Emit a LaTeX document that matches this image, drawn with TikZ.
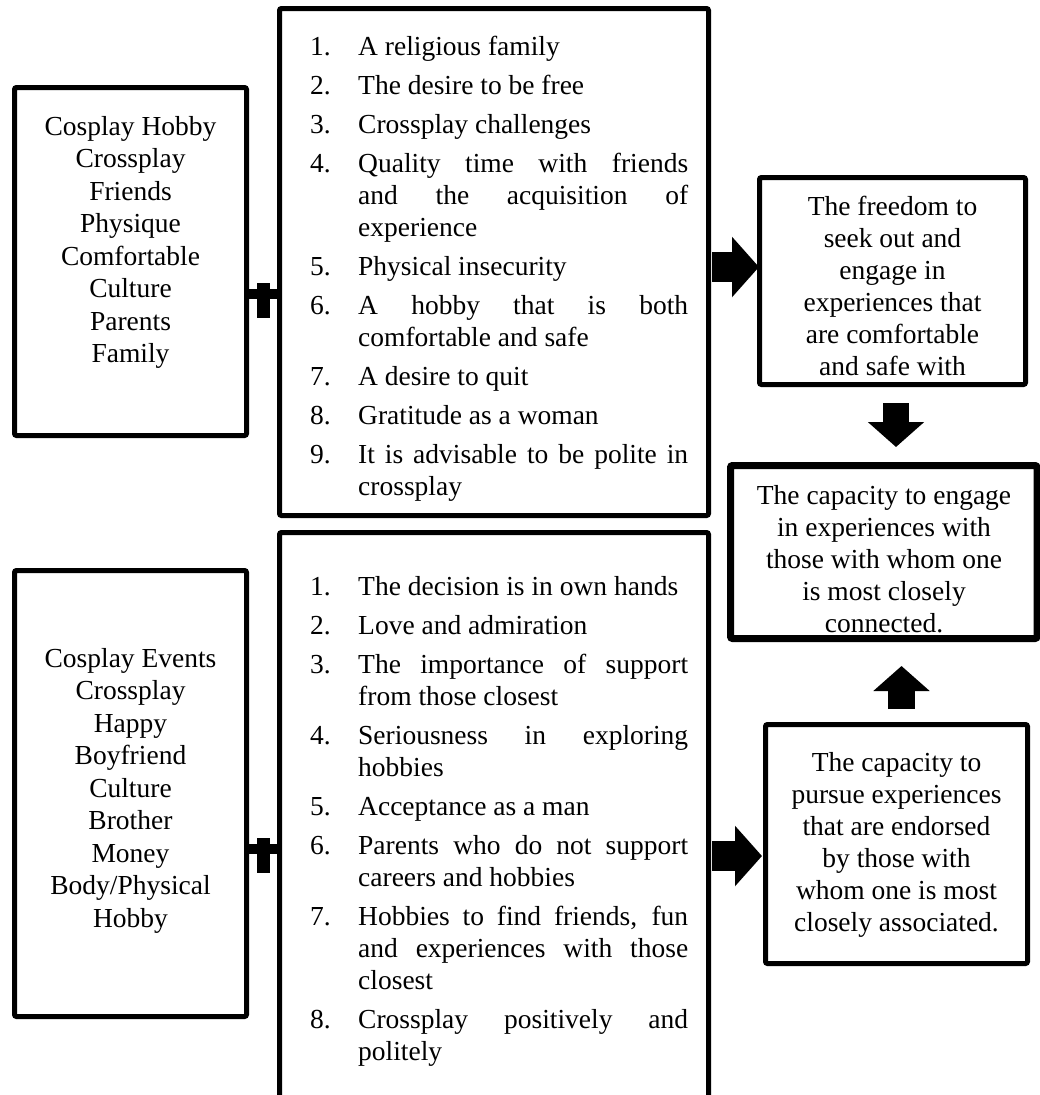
\documentclass[tikz,border=0pt]{standalone}
\usepackage{fontspec}
\setmainfont{Liberation Serif}
\usepackage{enumitem}
\usetikzlibrary{arrows.meta,calc}
\tikzset{
  box/.style={draw, line width=5pt, rounded corners=2pt, inner sep=0pt},
  bigbox/.style={box, line width=7pt},
  txt/.style={inner sep=0pt, align=center, anchor=north,
    font=\fontsize{27.5}{32.5}\selectfont},
  rtxt/.style={txt, font=\fontsize{27.5}{32}\selectfont},
  listtext/.style={inner sep=0pt, text width=378pt, anchor=north west, align=justify,
    font=\fontsize{27.5}{32}\selectfont},
  rarrow/.style={line width=30pt, -{Triangle[length=27pt,width=59pt]}},
  varrow/.style={line width=26pt, -{Triangle[length=25pt,width=55pt]}},
}
\newcommand{\mylist}[1]{\begin{enumerate}[label=\arabic*., leftmargin=48pt, labelwidth=28pt, labelsep=20pt, align=left, nosep, itemsep=7pt]#1\end{enumerate}}
\begin{document}
\begin{tikzpicture}[x=1pt,y=-1pt]
\useasboundingbox (0,0) rectangle (1040,1095);
% left boxes
\node[box, minimum width=232pt, minimum height=348pt] (L1) at (130.5,261.5) {};
\node[txt] (L1t) at (130.5,116)
  {Cosplay Hobby\\Crossplay\\Friends\\Physique\\Comfortable\\Culture\\Parents\\Family};
\node[box, minimum width=232pt, minimum height=446pt] (L2) at (130.5,793.5) {};
\node[txt] (L2t) at (130.5,648)
  {Cosplay Events\\Crossplay\\Happy\\Boyfriend\\Culture\\Brother\\Money\\Body/Physical\\Hobby};
% middle boxes
\node[box, minimum width=429pt, minimum height=507pt] (M1) at (494,262) {};
\node[box, minimum width=429pt, minimum height=580pt] (M2) at (494,822.5) {};
\node[listtext] (T1) at (310,23) {\mylist{
  \item A religious family
  \item The desire to be free
  \item Crossplay challenges
  \item Quality time with friends\linebreak and the acquisition of\linebreak experience
  \item Physical insecurity
  \item A hobby that is both\linebreak comfortable and safe
  \item A desire to quit
  \item Gratitude as a woman
  \item It is advisable to be polite in\linebreak crossplay}};
\node[listtext] (T2) at (310,563) {\mylist{
  \item The decision is in own hands
  \item Love and admiration
  \item The importance of support\linebreak from those closest
  \item Seriousness in exploring\linebreak hobbies
  \item Acceptance as a man
  \item Parents who do not support\linebreak careers and hobbies
  \item Hobbies to find friends, fun\linebreak and experiences with those\linebreak closest
  \item Crossplay positively and\linebreak politely}};
% right boxes
\node[box, minimum width=266pt, minimum height=207pt] (R1) at (892.5,281) {};
\node[rtxt] (R1t) at (892.5,196)
  {The freedom to\\seek out and\\engage in\\experiences that\\are comfortable\\and safe with};
\node[bigbox, minimum width=306.5pt, minimum height=173pt] (R3) at (883.75,552) {};
\node[rtxt] (R3t) at (884,485)
  {The capacity to engage\\in experiences with\\those with whom one\\is most closely\\connected.};
\node[box, minimum width=262pt, minimum height=239pt] (R2) at (896.5,844) {};
\node[rtxt] (R2t) at (896.5,752)
  {The capacity to\\pursue experiences\\that are endorsed\\by those with\\whom one is most\\closely associated.};
% connectors between left and middle boxes
\coordinate (c1) at (0,300);
\coordinate (c2) at (0,855);
\fill ($(L1.east |- c1)+(0,-11)$) rectangle ($(M1.west |- c1)+(0,-1)$);
\fill ($(L1.east |- c1)+(8,-17)$) rectangle ($(M1.west |- c1)+(-7,18)$);
\fill ($(L2.east |- c2)+(0,-11)$) rectangle ($(M2.west |- c2)+(0,-1)$);
\fill ($(L2.east |- c2)+(8,-17)$) rectangle ($(M2.west |- c2)+(-7,18)$);
% right arrows
\coordinate (a1) at (0,267);
\coordinate (a2) at (0,856);
\draw[rarrow] ($(M1.east |- a1)+(1,0)$) -- ($(R1.west |- a1)+(2,0)$);
\draw[rarrow] ($(M2.east |- a2)+(1,0)$) -- ($(R2.west |- a2)+(-1,0)$);
% vertical arrows
\coordinate (d1) at (896,403);
\coordinate (d2) at (896,447);
\draw[varrow] (d1) -- (d2);
\coordinate (u1) at (901.5,709);
\coordinate (u2) at (901.5,666);
\draw[varrow, line width=27pt] (u1) -- (u2);
\end{tikzpicture}
\end{document}
